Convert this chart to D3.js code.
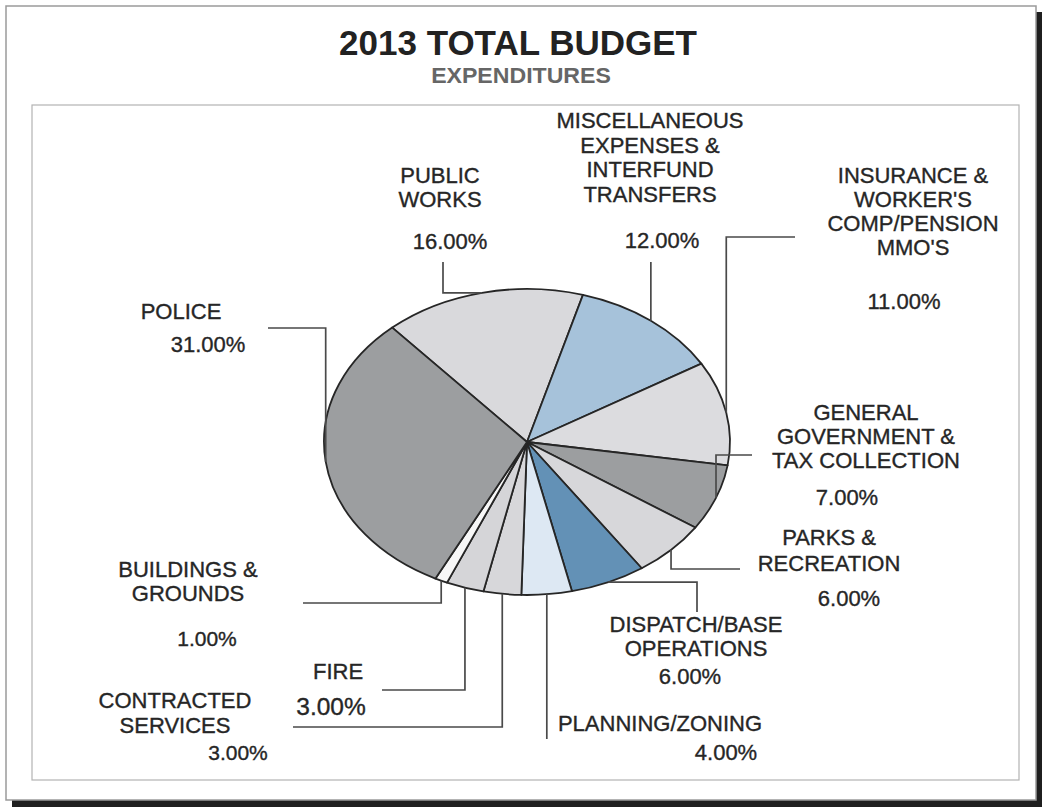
<!DOCTYPE html>
<html>
<head>
<meta charset="utf-8">
<script src="https://cdn.jsdelivr.net/npm/d3@7"></script>
<style>
  html, body { margin: 0; padding: 0; background: #ffffff; }
  svg { display: block; }
  text { font-family: "Liberation Sans", Arial, sans-serif; }
</style>
</head>
<body>
<svg id="chart" width="1042" height="807"></svg>
<script>
// Expenditure categories, in drawing order (clockwise)
const categories = [
  "PUBLIC WORKS",
  "MISCELLANEOUS EXPENSES & INTERFUND TRANSFERS",
  "INSURANCE & WORKER'S COMP/PENSION MMO'S",
  "GENERAL GOVERNMENT & TAX COLLECTION",
  "PARKS & RECREATION",
  "DISPATCH/BASE OPERATIONS",
  "PLANNING/ZONING",
  "CONTRACTED SERVICES",
  "FIRE",
  "BUILDINGS & GROUNDS",
  "POLICE"
];
// Share of the total budget, percent
const shares = [16, 12, 11, 7, 6, 6, 4, 3, 3, 1, 31];
// How each category name is broken onto lines
const labelLines = [
  ["PUBLIC", "WORKS"],
  ["MISCELLANEOUS", "EXPENSES &", "INTERFUND", "TRANSFERS"],
  ["INSURANCE &", "WORKER'S", "COMP/PENSION", "MMO'S"],
  ["GENERAL", "GOVERNMENT &", "TAX COLLECTION"],
  ["PARKS &", "RECREATION"],
  ["DISPATCH/BASE", "OPERATIONS"],
  ["PLANNING/ZONING"],
  ["CONTRACTED", "SERVICES"],
  ["FIRE"],
  ["BUILDINGS &", "GROUNDS"],
  ["POLICE"]
];

// Slice fills
const fills = [
  "#d9d9dc", "#a6c2da", "#dcdcdf", "#9c9ea0", "#d7d7da",
  "#6391b6", "#dde8f3", "#d7d7da", "#d5d5d8", "#f7f7f7", "#9c9ea0"
];

// Label placement: name centre x, first baseline, line gap; value centre x, baseline, size
const labelLayout = [
  { x: 440, y: 183, gap: 24, px: 450, py: 249, ps: 22 },
  { x: 650, y: 128, gap: 24.7, px: 662, py: 248, ps: 22 },
  { x: 913, y: 183, gap: 24, px: 904, py: 309, ps: 22 },
  { x: 866, y: 420, gap: 24, px: 847, py: 505, ps: 22 },
  { x: 829, y: 545, gap: 26, px: 849, py: 606, ps: 22 },
  { x: 696, y: 632, gap: 23.5, px: 690, py: 684, ps: 22 },
  { x: 660, y: 731, gap: 24, px: 726, py: 760, ps: 22 },
  { x: 175, y: 708, gap: 25, px: 238, py: 760, ps: 21 },
  { x: 338, y: 679, gap: 24, px: 331, py: 715, ps: 24.5 },
  { x: 188, y: 577, gap: 24, px: 207, py: 646, ps: 21 },
  { x: 181, y: 319, gap: 24, px: 208, py: 352, ps: 22 }
];

// Leader routes from the slice edge: "v" = vertical first, "h" = horizontal first
const leaderLayout = [
  { first: "h", knee: 443, end: 262 },
  { first: "v", knee: 262, end: null },
  { first: "v", knee: 237, end: 795 },
  { first: "v", knee: 455, end: 752 },
  { first: "v", knee: 569, end: 740 },
  { first: "h", knee: 697, end: 612 },
  { first: "v", knee: 739, end: null },
  { first: "v", knee: 727, end: 293 },
  { first: "v", knee: 690, end: 382 },
  { first: "v", knee: 603, end: 303 },
  { first: "v", knee: 328, end: 268 }
];

const W = 1042, H = 807;
const svg = d3.select("#chart");

// Page frame with a dark drop shadow
svg.append("rect").attr("x", 12).attr("y", 12).attr("width", W - 12).attr("height", H - 12)
  .attr("fill", "#1f1f1f");
svg.append("rect").attr("x", 6).attr("y", 6).attr("width", 1030).attr("height", 794)
  .attr("fill", "#ffffff").attr("stroke", "#9a9a9a").attr("stroke-width", 1.5);

// Plot area box
svg.append("rect").attr("x", 32).attr("y", 105).attr("width", 987).attr("height", 675)
  .attr("fill", "#ffffff").attr("stroke", "#b3b3b3").attr("stroke-width", 1.2);

// Titles
svg.append("text").attr("x", 518).attr("y", 55).attr("text-anchor", "middle")
  .attr("font-size", 35).attr("font-weight", "bold").attr("fill", "#222222")
  .text("2013 TOTAL BUDGET");
svg.append("text").attr("x", 0).attr("y", 0).attr("text-anchor", "middle")
  .attr("transform", "translate(521,83) scale(1.1,1.05)")
  .attr("font-size", 21).attr("font-weight", "bold").attr("fill", "#666666")
  .text("EXPENDITURES");

// Elliptical pie: a circle of radius rx squashed vertically
const cx = 527, cy = 442, rx = 203, ry = 153;
const startDeg = -41.6;
const pie = d3.pie().value(d => d).sort(null)
  .startAngle(startDeg * Math.PI / 180)
  .endAngle((startDeg + 360) * Math.PI / 180);
const arcs = pie(shares);
const arc = d3.arc().innerRadius(0).outerRadius(rx);

const pieG = svg.append("g")
  .attr("transform", `translate(${cx},${cy}) scale(1,${ry / rx})`);
pieG.selectAll("path.slice").data(arcs).join("path")
  .attr("class", "slice")
  .attr("d", arc)
  .attr("fill", (d, i) => fills[i])
  .attr("stroke", "#262626")
  .attr("stroke-width", 1.8)
  .attr("vector-effect", "non-scaling-stroke")
  .attr("stroke-linejoin", "round");

// Point on the ellipse edge at a slice's middle angle
function edgePoint(d) {
  const a = (d.startAngle + d.endAngle) / 2;
  return [cx + rx * Math.sin(a), cy - ry * Math.cos(a)];
}

// Leader lines
const line = d3.line();
svg.append("g").selectAll("path").data(arcs).join("path")
  .attr("d", (d, i) => {
    const [x0, y0] = edgePoint(d);
    const L = leaderLayout[i];
    const pts = [[x0, y0]];
    if (L.first === "v") {
      pts.push([x0, L.knee]);
      if (L.end !== null) pts.push([L.end, L.knee]);
    } else {
      pts.push([L.knee, y0]);
      if (L.end !== null) pts.push([L.knee, L.end]);
    }
    return line(pts);
  })
  .attr("fill", "none")
  .attr("stroke", "#4a4a4a")
  .attr("stroke-width", 1.7);

// Category names and values
const fmt = d3.format(".2f");
const labels = svg.append("g").attr("fill", "#262626")
  .attr("stroke", "#262626").attr("stroke-width", 0.35);
arcs.forEach((d, i) => {
  const L = labelLayout[i];
  labelLines[i].forEach((t, k) => {
    labels.append("text")
      .attr("x", L.x).attr("y", L.y + k * L.gap)
      .attr("text-anchor", "middle").attr("font-size", 22)
      .text(t);
  });
  labels.append("text")
    .attr("x", L.px).attr("y", L.py)
    .attr("text-anchor", "middle").attr("font-size", L.ps)
    .text(fmt(shares[i]) + "%");
});
</script>
</body>
</html>
